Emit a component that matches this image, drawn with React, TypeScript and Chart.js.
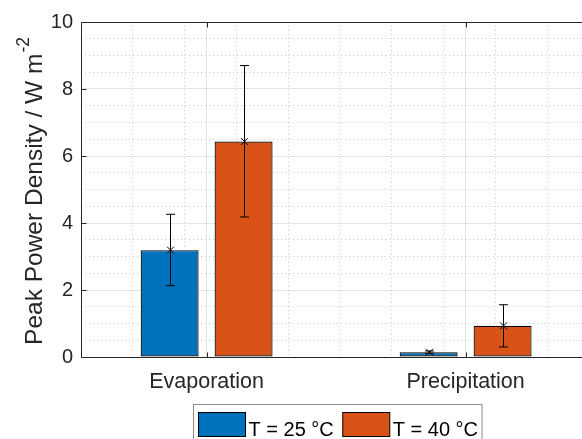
import React, { useEffect, useRef } from "react";
import { Chart, registerables } from "chart.js";

Chart.register(...registerables);

const categories = ["Evaporation", "Precipitation"];
const seriesLabels = ["T = 25 °C", "T = 40 °C"];
const seriesColors = ["#0072BD", "#D95319"];
const mean25 = [3.19, 0.14];
const mean40 = [6.43, 0.93];
const low25 = [2.13, 0.11];
const high25 = [4.26, 0.18];
const low40 = [4.18, 0.3];
const high40 = [8.7, 1.56];
const yTickStep = 2;
const yMinorStep = 0.5;
const xMinorStep = 0.2;
const yTitleMain = "Peak Power Density / W m";
const yTitleSup = "-2";

const means = [mean25, mean40];
const lows = [low25, low40];
const highs = [high25, high40];

const FONT = '"Liberation Sans", Arial, Helvetica, sans-serif';
const AXIS = "#262626";
const MAJOR_GRID = "rgba(38,38,38,0.12)";
const MINOR_GRID = "rgba(38,38,38,0.24)";

const isMult = (v: number, s: number) => Math.abs(v / s - Math.round(v / s)) < 1e-6;

const decorPlugin = {
  id: "decor",
  afterDatasetsDraw(chart: any) {
    const ctx = chart.ctx;
    const yScale = chart.scales.y;
    const xScale = chart.scales.x;
    const { left, right, top, bottom } = chart.chartArea;
    // error bars and markers
    ctx.save();
    ctx.strokeStyle = "#000";
    ctx.lineWidth = 1;
    for (let d = 0; d < 2; d++) {
      const meta = chart.getDatasetMeta(d);
      meta.data.forEach((bar: any, i: number) => {
        const x = Math.round(bar.x) + 0.5;
        const yl = yScale.getPixelForValue(lows[d][i]);
        const yh = yScale.getPixelForValue(highs[d][i]);
        const ym = yScale.getPixelForValue(means[d][i]);
        const cap = 4.5;
        ctx.beginPath();
        ctx.moveTo(x, yl);
        ctx.lineTo(x, yh);
        ctx.moveTo(x - cap, yl);
        ctx.lineTo(x + cap, yl);
        ctx.moveTo(x - cap, yh);
        ctx.lineTo(x + cap, yh);
        ctx.stroke();
        const m = 3.5;
        ctx.beginPath();
        ctx.moveTo(x - m, ym - m);
        ctx.lineTo(x + m, ym + m);
        ctx.moveTo(x - m, ym + m);
        ctx.lineTo(x + m, ym - m);
        ctx.stroke();
      });
    }
    ctx.restore();
    // axes frame and inward ticks
    ctx.save();
    ctx.strokeStyle = AXIS;
    ctx.lineWidth = 1;
    const L = Math.round(left) + 0.5;
    const R = Math.round(right) - 0.5;
    const T = Math.round(top) + 0.5;
    const B = Math.round(bottom) + 0.5;
    ctx.beginPath();
    ctx.moveTo(L, T);
    ctx.lineTo(R, T);
    ctx.lineTo(R, B);
    ctx.lineTo(L, B);
    ctx.closePath();
    ctx.stroke();
    ctx.beginPath();
    yScale.ticks.forEach((t: any) => {
      const y = Math.round(yScale.getPixelForValue(t.value)) + 0.5;
      ctx.moveTo(L, y);
      ctx.lineTo(L + 5, y);
      ctx.moveTo(R, y);
      ctx.lineTo(R - 5, y);
    });
    xScale.ticks.forEach((t: any) => {
      const x = Math.round(xScale.getPixelForValue(t.value)) + 0.5;
      ctx.moveTo(x, B);
      ctx.lineTo(x, B - 5);
      ctx.moveTo(x, T);
      ctx.lineTo(x, T + 5);
    });
    ctx.stroke();
    ctx.restore();
  },
  afterDraw(chart: any) {
    const ctx = chart.ctx;
    const { left, right, top, bottom } = chart.chartArea;
    // y title with superscript
    ctx.save();
    ctx.fillStyle = AXIS;
    ctx.textBaseline = "alphabetic";
    ctx.textAlign = "left";
    ctx.font = `24.5px ${FONT}`;
    const wMain = ctx.measureText(yTitleMain).width;
    ctx.font = `17.5px ${FONT}`;
    const wSup = ctx.measureText(yTitleSup).width;
    const total = wMain + wSup;
    ctx.translate(42, (top + bottom) / 2 + 2);
    ctx.rotate(-Math.PI / 2);
    ctx.font = `24.5px ${FONT}`;
    ctx.fillText(yTitleMain, -total / 2, 0);
    ctx.font = `17.5px ${FONT}`;
    ctx.fillText(yTitleSup, -total / 2 + wMain + 1, -13);
    ctx.restore();

    // legend
    ctx.save();
    ctx.font = `20px ${FONT}`;
    const pad = 5;
    const sw = 47;
    const sh = 24;
    const gapText = 3;
    const gapItem = 9;
    const padR = 4;
    const widths = seriesLabels.map((s) => ctx.measureText(s).width);
    let total2 = pad + padR;
    widths.forEach((w, i) => {
      total2 += sw + gapText + w + (i < widths.length - 1 ? gapItem : 0);
    });
    const cx = (left + right) / 2 - 3;
    const boxLeft = Math.round(cx - total2 / 2) + 0.5;
    const boxTop = Math.round(bottom + 47) + 0.5;
    ctx.fillStyle = "#fff";
    ctx.fillRect(boxLeft, boxTop, total2, 50);
    ctx.strokeStyle = "#8c8c8c";
    ctx.lineWidth = 1;
    ctx.strokeRect(boxLeft, boxTop, total2, 50);
    let x = boxLeft + pad;
    chart.data.datasets.forEach((ds: any, i: number) => {
      ctx.fillStyle = ds.backgroundColor;
      ctx.fillRect(x, boxTop + 8, sw, sh);
      ctx.strokeStyle = "#000";
      ctx.strokeRect(x, boxTop + 8, sw, sh);
      ctx.fillStyle = "#000";
      ctx.textBaseline = "alphabetic";
      ctx.fillText(ds.label, x + sw + gapText, boxTop + 31.5);
      x += sw + gapText + widths[i] + gapItem;
    });
    ctx.restore();
  },
};

export default function App() {
  const ref = useRef<HTMLCanvasElement | null>(null);
  useEffect(() => {
    if (!ref.current) return;
    const xMin = 0.515;
    const xMax = 2.515;
    const chart = new Chart(ref.current, {
      type: "bar",
      data: {
        datasets: [0, 1].map((d) => ({
          label: seriesLabels[d],
          data: categories.map((_, i) => ({ x: i + 1, y: means[d][i] })),
          backgroundColor: seriesColors[d],
          borderColor: "#000",
          borderWidth: 1.2,
          borderSkipped: false,
          categoryPercentage: 0.571,
          barPercentage: 0.784,
        })),
      },
      options: {
        responsive: false,
        animation: false,
        devicePixelRatio: 1,
        layout: { padding: { top: 22, right: 1, left: 0, bottom: 0 } },
        plugins: { legend: { display: false }, tooltip: { enabled: false } },
        scales: {
          x: {
            type: "linear",
            position: "bottom",
            offset: false,
            min: xMin,
            max: xMax,
            afterBuildTicks: (s: any) => {
              s.ticks = categories.map((_, i) => ({ value: i + 1 }));
            },
            afterFit: (s: any) => {
              s.height = 103;
            },
            ticks: {
              callback: (_v: any, i: number) => categories[i],
              font: { family: FONT, size: 21.5 },
              color: AXIS,
              padding: 12,
              maxRotation: 0,
              autoSkip: false,
            },
            grid: { color: MAJOR_GRID, lineWidth: 1, drawTicks: false, offset: false },
            border: { display: false },
          },
          xMinor: {
            type: "linear",
            position: "bottom",
            offset: false,
            min: xMin,
            max: xMax,
            afterFit: (s: any) => {
              s.height = 0;
            },
            ticks: { display: false, stepSize: xMinorStep, includeBounds: false },
            grid: {
              drawTicks: false,
              offset: false,
              lineWidth: 1,
              color: (c: any) =>
                c.tick && isMult(c.tick.value, 1) ? "transparent" : MINOR_GRID,
            },
            border: { display: false, dash: [1, 3] },
          },
          y: {
            type: "linear",
            position: "left",
            min: 0,
            max: 10,
            afterFit: (s: any) => {
              s.width = 81;
            },
            ticks: {
              stepSize: yTickStep,
              font: { family: FONT, size: 20 },
              color: AXIS,
              padding: 8,
            },
            grid: { color: MAJOR_GRID, lineWidth: 1, drawTicks: false },
            border: { display: false },
          },
          yMinor: {
            type: "linear",
            position: "left",
            min: 0,
            max: 10,
            afterFit: (s: any) => {
              s.width = 0;
            },
            ticks: { display: false, stepSize: yMinorStep },
            grid: {
              drawTicks: false,
              lineWidth: 1,
              color: (c: any) =>
                c.tick && isMult(c.tick.value, yTickStep) ? "transparent" : MINOR_GRID,
            },
            border: { display: false, dash: [1, 3] },
          },
        },
      },
      plugins: [decorPlugin],
    } as any);
    return () => chart.destroy();
  }, []);
  return (
    <div style={{ position: "fixed", left: 0, top: 0, width: 600, height: 460, overflow: "hidden", background: "#fff" }}>
      <canvas ref={ref} width={600} height={460} />
    </div>
  );
}
